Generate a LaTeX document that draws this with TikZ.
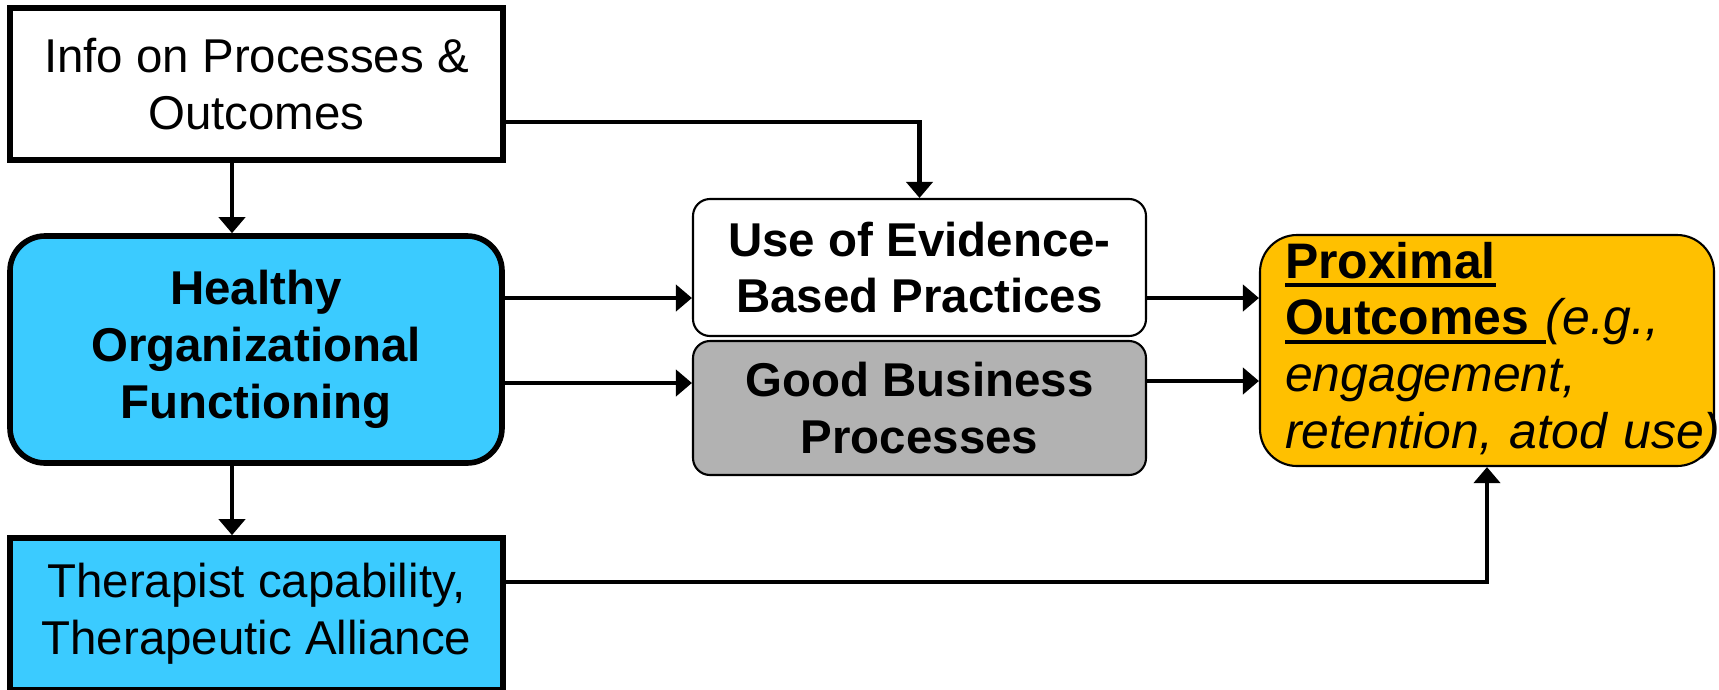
\documentclass[tikz,border=0pt]{standalone}
\usepackage{fontspec}
\setmainfont{Liberation Sans}
\usetikzlibrary{arrows.meta}
\definecolor{skyfill}{HTML}{3BCBFF}
\definecolor{goldfill}{HTML}{FFC000}
\definecolor{greyfill}{HTML}{B2B2B2}
\newcommand{\boxfont}{\fontsize{13.5}{16.2}\selectfont}
\newcommand{\thickul}[1]{\setbox0\hbox{#1}\rlap{\rule[-2.6pt]{\wd0}{1.1pt}}\box0}

\begin{document}
\begin{tikzpicture}[x=0.1mm, y=-0.1mm, font=\boxfont]
				% Setup the styles for the boxes
				\tikzset{box style/.style={draw, align=center, inner sep=0pt},
						 thick box/.style={box style, line width=1.6pt},
						 thin box/.style={box style, line width=0.6pt},
						 bold text/.style={font=\boxfont\bfseries},
						 arrow style/.style={->, line width=1.2pt,
											 >={Triangle[length=1.6mm, width=2.6mm]}}}
				\useasboundingbox (0, 0) rectangle (1719, 689);
				% Draw the boxes
				\node[thick box, minimum width=49.3mm, minimum height=15.2mm]
					at (256.5, 84) (info) {Info on Processes \&\\Outcomes};
				\node[thick box, bold text, fill=skyfill, rounded corners=3.5mm,
					  minimum width=49.2mm, minimum height=22.7mm]
					at (256, 349.5) (hof) {Healthy\\Organizational\\Functioning};
				\node[thick box, fill=skyfill, minimum width=49.3mm, minimum height=15.2mm]
					at (256.5, 614) (ther) {Therapist capability,\\Therapeutic Alliance};
				\node[thin box, bold text, rounded corners=1.7mm, minimum width=45.3mm,
					  minimum height=13.7mm]
					at (919.5, 267.5) (ebp) {Use of Evidence-\\Based Practices};
				\node[thin box, bold text, fill=greyfill, rounded corners=1.7mm,
					  minimum width=45.3mm, minimum height=13.4mm]
					at (919.5, 408) (gbp) {Good Business\\Processes};
				\node[thin box, fill=goldfill, rounded corners=3.7mm, align=left,
					  text width=40.4mm, font=\fontsize{14.2}{16.2}\selectfont,
					  minimum width=45.4mm, minimum height=23.1mm]
					at (1487, 350.5) (prox) {\textbf{\thickul{Proximal}}\\
						\mbox{\thickul{\textbf{Outcomes\ }}\textit{(e.g.,}}\\
						\textit{engagement,}\\
						\mbox{\textit{retention, atod use)}}};
				% Connect the boxes with arrows
				\draw[arrow style] ([xshift=-2.45mm]info.south) -- ([xshift=-2.4mm]hof.north);
				\draw[arrow style] ([xshift=-2.4mm]hof.south) -- ([xshift=-2.45mm]ther.north);
				\draw[arrow style] ([yshift=-3.8mm]info.east) -| (ebp.north);
				\draw[arrow style] ([yshift=5.15mm]hof.east) -- ([yshift=5.15mm]hof.east -| ebp.west);
				\draw[arrow style] ([yshift=-3.35mm]hof.east) -- ([yshift=-3.35mm]hof.east -| gbp.west);
				\draw[arrow style] ([yshift=-3.05mm]ebp.east) -- ([yshift=-3.05mm]ebp.east -| prox.west);
				\draw[arrow style] ([yshift=2.7mm]gbp.east) -- ([yshift=2.7mm]gbp.east -| prox.west);
				\draw[arrow style] ([yshift=3.2mm]ther.east) -| (prox.south);
			\end{tikzpicture}
\end{document}
